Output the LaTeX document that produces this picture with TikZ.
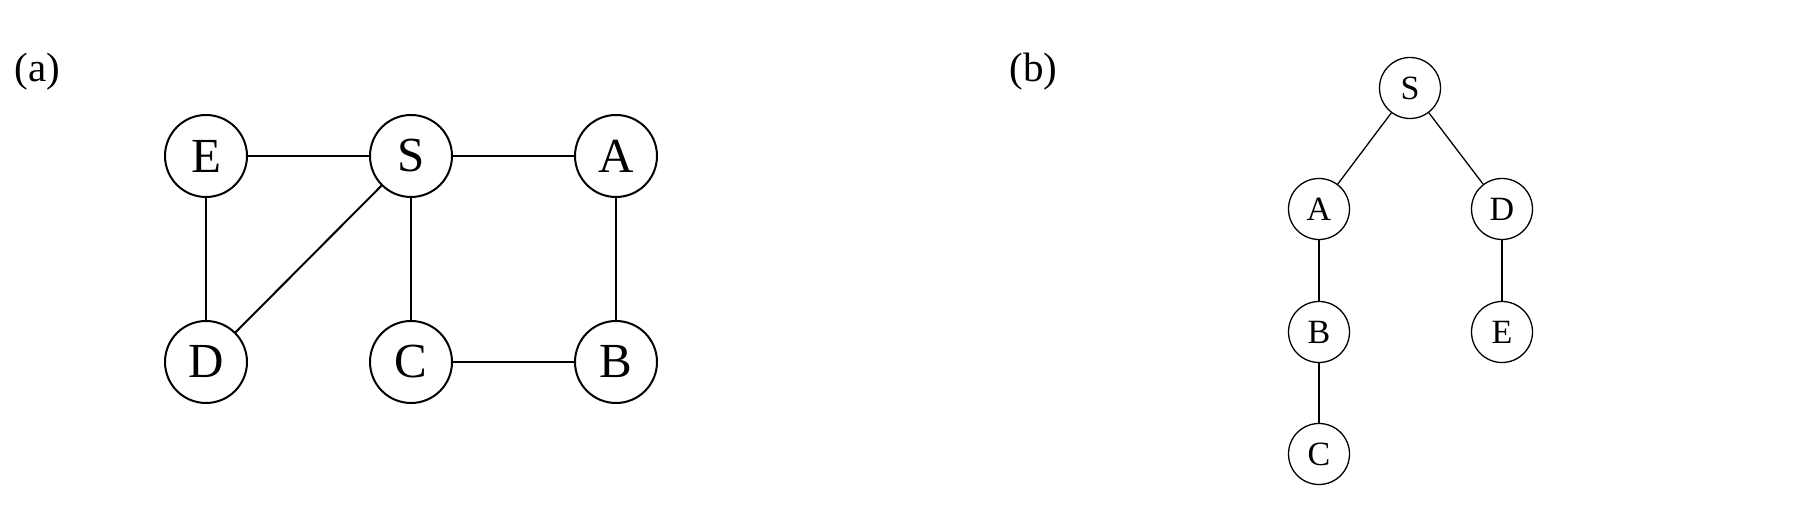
\documentclass[tikz,border=0pt]{standalone}
\usepackage{fontspec}
\setmainfont{Liberation Serif}
\begin{document}
\begin{tikzpicture}[x=0.5pt,y=-0.5pt,
  bignode/.style={circle,draw,line width=1pt,minimum size=41pt,inner sep=0pt,font=\fontsize{24.5}{28}\selectfont},
  smallnode/.style={circle,draw,line width=0.65pt,minimum size=30.5pt,inner sep=0pt,font=\fontsize{17}{20}\selectfont},
  bigedge/.style={line width=1pt},
  smalledge/.style={line width=0.65pt},
  lbl/.style={anchor=base west,inner sep=0pt,font=\fontsize{20.5}{24}\selectfont}]
\useasboundingbox (0,0) rectangle (1794,512);
% (a)
\node[lbl] (la) at (14,82) {(a)};
\node[bignode] (aE) at (206,156) {E};
\node[bignode] (aS) at (411,156) {S};
\node[bignode] (aA) at (616,156) {A};
\node[bignode] (aD) at (206,362) {D};
\node[bignode] (aC) at (411,362) {C};
\node[bignode] (aB) at (616,362) {B};
\draw[bigedge] (aE) -- (aS);
\draw[bigedge] (aS) -- (aA);
\draw[bigedge] (aE) -- (aD);
\draw[bigedge] (aS) -- (aD);
\draw[bigedge] (aS) -- (aC);
\draw[bigedge] (aA) -- (aB);
\draw[bigedge] (aC) -- (aB);
% (b)
\node[lbl] (lb) at (1009,82) {(b)};
\node[smallnode] (bS) at (1410,88) {S};
\node[smallnode] (bA) at (1319,209) {A};
\node[smallnode] (bD) at (1502,209) {D};
\node[smallnode] (bB) at (1319,332) {B};
\node[smallnode] (bE) at (1502,332) {E};
\node[smallnode] (bC) at (1319,454) {C};
\draw[smalledge] (bS) -- (bA);
\draw[smalledge] (bS) -- (bD);
\draw[smalledge] (bA) -- (bB);
\draw[smalledge] (bB) -- (bC);
\draw[smalledge] (bD) -- (bE);
\end{tikzpicture}
\end{document}
